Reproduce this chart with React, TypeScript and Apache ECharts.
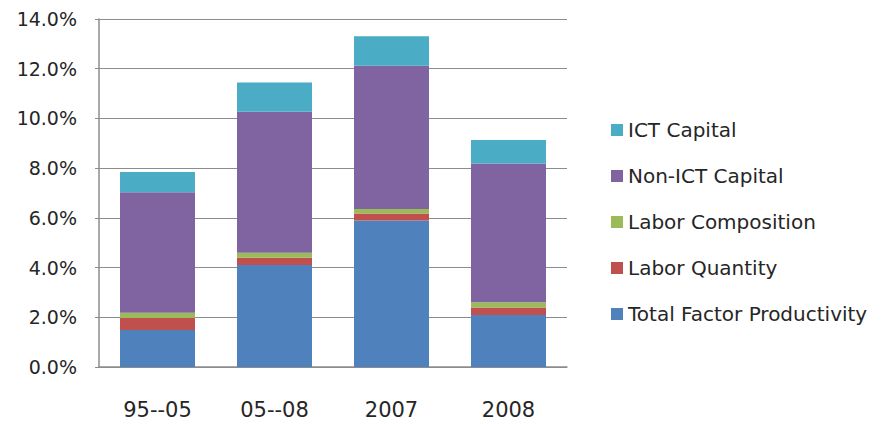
import React, { useEffect, useRef } from "react";
import * as echarts from "echarts";

const categories = ["95--05", "05--08", "2007", "2008"];
const tfp = [1.49, 4.1, 5.89, 2.09];
const laborQuantity = [0.48, 0.3, 0.29, 0.3];
const laborComposition = [0.21, 0.2, 0.18, 0.21];
const nonIctCapital = [4.85, 5.67, 5.76, 5.59];
const ictCapital = [0.81, 1.18, 1.19, 0.94];
const yTicks = [0, 2, 4, 6, 8, 10, 12, 14];

const seriesDefs = [
  { name: "Total Factor Productivity", data: tfp, color: "#4F81BD" },
  { name: "Labor Quantity", data: laborQuantity, color: "#C0504D" },
  { name: "Labor Composition", data: laborComposition, color: "#9BBB59" },
  { name: "Non-ICT Capital", data: nonIctCapital, color: "#8064A2" },
  { name: "ICT Capital", data: ictCapital, color: "#4BACC6" },
];

export default function App() {
  const ref = useRef<HTMLDivElement>(null);
  useEffect(() => {
    const chart = echarts.init(ref.current!, null, { renderer: "svg" });
    const font = "'DejaVu Sans', sans-serif";
    chart.setOption({
      animation: false,
      backgroundColor: "#ffffff",
      grid: { left: 99, right: 317, top: 19, bottom: 57, containLabel: false },
      legend: {
        orient: "vertical",
        left: 606,
        top: 115,
        icon: "rect",
        itemWidth: 12,
        itemHeight: 12,
        itemGap: 26,
        data: seriesDefs.map((s) => s.name).reverse(),
        textStyle: { fontFamily: font, fontSize: 20, color: "#262626" },
      },
      xAxis: {
        type: "category",
        data: categories,
        axisLine: { lineStyle: { color: "#8c8c8c", width: 1.5 } },
        axisTick: { show: false },
        axisLabel: { fontFamily: font, fontSize: 21, color: "#262626", margin: 32 },
      },
      yAxis: {
        type: "value",
        min: yTicks[0],
        max: yTicks[yTicks.length - 1],
        interval: 2,
        axisLine: { show: true, lineStyle: { color: "#8c8c8c", width: 1.5 } },
        axisTick: { show: true, length: 4, lineStyle: { color: "#8c8c8c" } },
        splitLine: { lineStyle: { color: "#8c8c8c", width: 1.2 } },
        axisLabel: {
          fontFamily: font,
          fontSize: 19,
          color: "#262626",
          margin: 22,
          formatter: (v: number) => v.toFixed(1) + "%",
        },
      },
      series: seriesDefs.map((s) => ({
        name: s.name,
        type: "bar",
        stack: "total",
        data: s.data,
        barWidth: 75,
        itemStyle: { color: s.color },
      })),
    });
    return () => chart.dispose();
  }, []);
  return <div ref={ref} style={{ width: 884, height: 424, position: "absolute", left: 0, top: 0 }} />;
}
